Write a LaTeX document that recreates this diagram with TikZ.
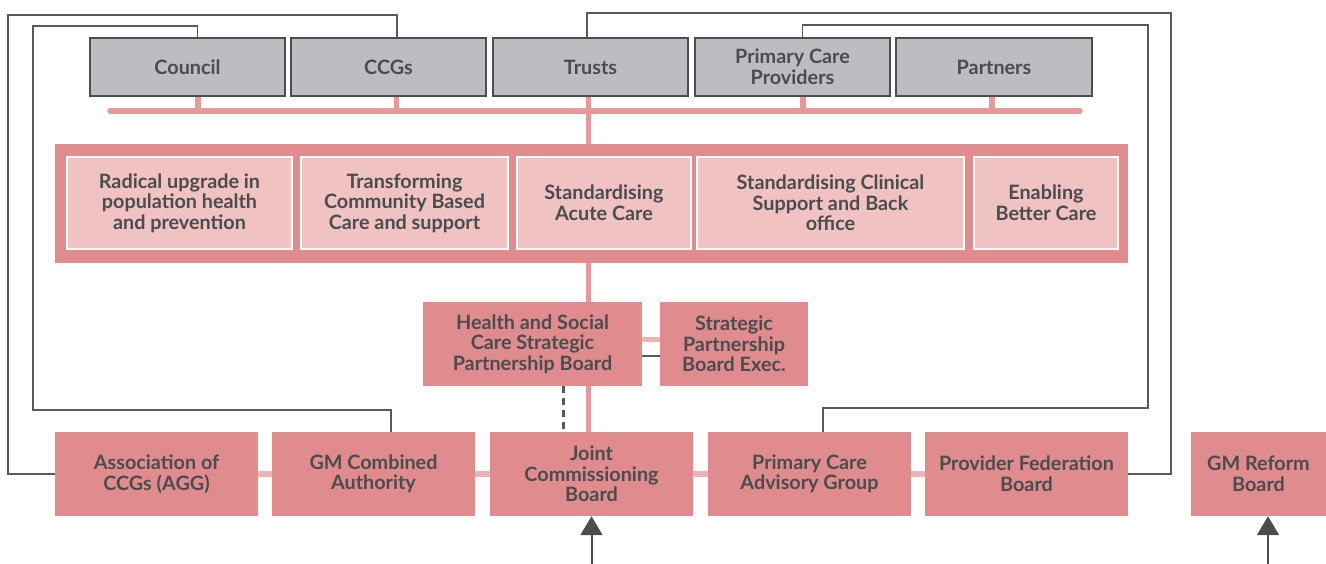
\documentclass[tikz,border=0pt]{standalone}
\usepackage{fontspec}
\setmainfont{Lato}
\usetikzlibrary{arrows.meta}
\definecolor{boxgray}{HTML}{BCBDC0}
\definecolor{edgegray}{HTML}{4D4D4F}
\definecolor{pinkdark}{HTML}{E08C8E}
\definecolor{pinklight}{HTML}{F0C2C1}
\definecolor{pinkline}{HTML}{E4999B}
\definecolor{pinkconn}{HTML}{EDB3B4}
\definecolor{txt}{HTML}{4B4C4E}
\definecolor{wirecol}{HTML}{58595B}
\begin{document}
\begin{tikzpicture}[x=1pt,y=-1pt,
 base/.style={align=center, inner sep=0pt, text=txt, font=\fontsize{19.8}{20.6}\selectfont\bfseries},
 graybox/.style={base, fill=boxgray, draw=edgegray, line width=1.3pt, minimum height=58pt},
 pinkbox/.style={base, fill=pinkdark, minimum height=84pt},
 lightbox/.style={base, fill=pinklight, draw=white, line width=1.2pt, minimum height=92pt},
 container/.style={fill=pinkdark, inner sep=0pt},
 bar/.style={draw=pinkline, line width=5.5pt},
 conn/.style={draw=pinkconn, line width=6pt},
 wire/.style={draw=wirecol, line width=1.5pt},
 dashwire/.style={draw=wirecol, line width=3pt, dash pattern=on 7pt off 5pt},
 arrowwire/.style={draw=txt, line width=2pt, -{Triangle[width=22pt,length=19pt]}},
]
\useasboundingbox (0,0) rectangle (1326,564);

% top row
\node[graybox, minimum width=195pt] (council) at (187.5,67) {Council};
\node[graybox, minimum width=195pt] (ccgs) at (388.5,67) {CCGs};
\node[graybox, minimum width=195pt] (trusts) at (590.5,67) {Trusts};
\node[graybox, minimum width=195pt] (pcp) at (792.5,67) {Primary Care\\Providers};
\node[graybox, minimum width=196pt] (partners) at (994,67) {Partners};

% container of workstreams
\node[container, minimum width=1073pt, minimum height=119pt] (cont) at (591.5,203.5) {};
\node[lightbox, minimum width=225pt] (b1) at (179.5,203) {Radical upgrade in\\population health\\and prevention};
\node[lightbox, minimum width=207pt] (b2) at (404.5,203) {Transforming\\Community Based\\Care and support};
\node[lightbox, minimum width=174pt] (b3) at (604,203) {Standardising\\Acute Care};
\node[lightbox, minimum width=267pt] (b4) at (830.5,203) {Standardising Clinical\\Support and Back\\office};
\node[lightbox, minimum width=144pt] (b5) at (1046,203) {Enabling\\Better Care};

% boards
\node[pinkbox, minimum width=219pt] (hsc) at (532.5,344) {Health and Social\\Care Strategic\\Partnership Board};
\node[pinkbox, minimum width=148pt] (spb) at (734,344) {Strategic\\Partnership\\Board Exec.};

\node[pinkbox, minimum width=203pt] (agg) at (156.5,474) {Association of\\CCGs (AGG)};
\node[pinkbox, minimum width=203pt] (gmca) at (373.5,474) {GM Combined\\Authority};
\node[pinkbox, minimum width=203pt] (jcb) at (591.5,474) {Joint\\Commissioning\\Board};
\node[pinkbox, minimum width=203pt] (pcag) at (809.5,474) {Primary Care\\Advisory Group};
\node[pinkbox, minimum width=203pt] (pfb) at (1026.5,474) {Provider Federation\\Board};
\node[pinkbox, minimum width=135pt] (gmr) at (1258.5,474) {GM Reform\\Board};

% pink bus under top row
\coordinate (barL) at (110,111);
\coordinate (barR) at (1080,111);
\coordinate (spine) at (588.5,0);
\draw[bar, line cap=round] (barL) -- (barR);
\coordinate (s1) at ([xshift=10.5pt]council.south);
\coordinate (s2) at ([xshift=8.2pt]ccgs.south);
\coordinate (s4) at ([xshift=10.5pt]pcp.south);
\coordinate (s5) at ([xshift=-2pt]partners.south);
\draw[bar] (s1) -- (s1 |- barL);
\draw[bar] (s2) -- (s2 |- barL);
\draw[bar] (s4) -- (s4 |- barL);
\draw[bar] (s5) -- (s5 |- barL);
\draw[bar] (trusts.south -| spine) -- (cont.north -| spine);
\draw[bar] (cont.south -| spine) -- (hsc.north -| spine);
\draw[bar] (hsc.south -| spine) -- (jcb.north -| spine);

% dashed link
\coordinate (d1) at ([xshift=31pt]hsc.south);
\draw[dashwire] (d1) -- (d1 |- jcb.north);

% links between boards
\draw[conn, line width=5pt] ([yshift=5pt]hsc.east) -- ([yshift=5pt]spb.west);
\draw[wire] ([yshift=-12pt]hsc.east) -- ([yshift=-12pt]spb.west);
\draw[conn] (agg.east) -- (gmca.west);
\draw[conn] (gmca.east) -- (jcb.west);
\draw[conn] (jcb.east) -- (pcag.west);
\draw[conn] (pcag.east) -- (pfb.west);

% thin grey wires
\draw[wire] ([xshift=8.5pt]ccgs.north) |- (8,15) |- (agg.west);
\draw[wire] ([xshift=10pt]council.north) |- (33,26) |- (391,410) -- ([xshift=17.5pt]gmca.north);
\draw[wire] ([xshift=-3.5pt]trusts.north) |- (1171,13) |- (pfb.east);
\draw[wire] ([xshift=10pt]pcp.north) |- (1148,25) |- (823,408) -- ([xshift=13.5pt]pcag.north);

% incoming arrows
\coordinate (in1) at (591.5,564);
\coordinate (in2) at (1268,564);
\draw[arrowwire] (in1) -- (jcb.south);
\draw[arrowwire] (in2) -- (in2 |- gmr.south);
\end{tikzpicture}
\end{document}
